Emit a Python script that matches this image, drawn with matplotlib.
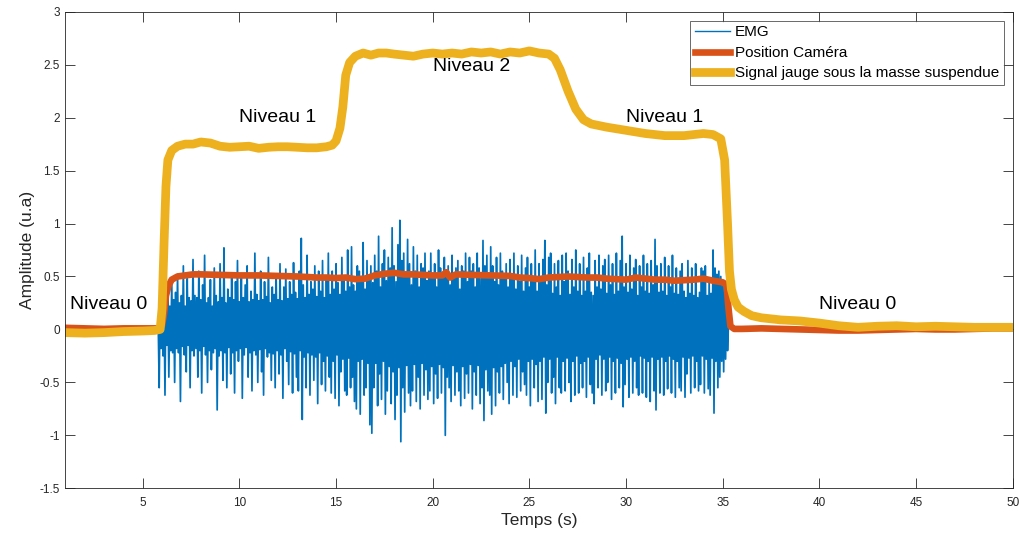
import numpy as np
import matplotlib
matplotlib.use("Agg")
import matplotlib.pyplot as plt

plt.rcParams['font.family'] = ['Liberation Sans', 'DejaVu Sans']

# --- Signal jauge (yellow) ---
jauge_t = [1, 2, 3, 4, 5, 5.6, 5.9, 6.0, 6.1, 6.2, 6.3, 6.5, 6.8, 7.2, 7.6, 8.0, 8.5, 9.0,
           9.5, 10, 10.5, 11, 11.5, 12, 12.5, 13, 13.5, 14, 14.5, 14.8, 15.0, 15.2, 15.35,
           15.5, 15.7, 16.0, 16.4, 16.8, 17.2, 17.6, 18.0, 18.5, 19.0, 19.5, 20, 20.5, 21,
           21.5, 22, 22.5, 23, 23.5, 24, 24.5, 25, 25.5, 26.0, 26.3, 26.6, 27.0, 27.4, 27.8,
           28.2, 29, 30, 31, 32, 33, 33.5, 34, 34.5, 34.9, 35.1, 35.25, 35.35, 35.45, 35.6,
           35.8, 36.1, 36.5, 37, 38, 39, 40, 41, 42, 43, 44, 45, 46, 47, 48, 49, 50]
jauge_v = [-0.03, -0.035, -0.03, -0.02, -0.015, -0.01, 0.0, 0.2, 0.8, 1.35, 1.6, 1.69, 1.73,
           1.75, 1.75, 1.77, 1.76, 1.73, 1.72, 1.725, 1.73, 1.71, 1.72, 1.725, 1.725, 1.72,
           1.715, 1.715, 1.725, 1.74, 1.78, 1.9, 2.1, 2.4, 2.52, 2.58, 2.61, 2.59, 2.61, 2.61,
           2.60, 2.59, 2.58, 2.60, 2.61, 2.60, 2.61, 2.60, 2.62, 2.61, 2.62, 2.60, 2.62, 2.61,
           2.63, 2.61, 2.60, 2.56, 2.45, 2.25, 2.08, 1.98, 1.94, 1.91, 1.88, 1.85, 1.83, 1.83,
           1.84, 1.85, 1.84, 1.80, 1.6, 1.0, 0.55, 0.38, 0.28, 0.21, 0.17, 0.13, 0.11, 0.09,
           0.08, 0.06, 0.035, 0.02, 0.03, 0.035, 0.025, 0.03, 0.025, 0.02, 0.02, 0.02]

# --- Position camera (red) ---
cam_t = [1, 2, 3, 4, 5, 5.8, 6.0, 6.1, 6.2, 6.35, 6.5, 6.8, 7.2, 7.6, 8, 9, 10, 11, 12, 13,
         14, 14.5, 15, 15.5, 16, 16.5, 17, 17.5, 18, 18.5, 19, 19.5, 20, 20.5, 20.7, 20.9,
         21.2, 22, 23, 24, 24.5, 25, 25.5, 26, 27, 28, 28.5, 29, 29.5, 30, 30.5, 31, 31.5,
         32, 32.5, 33, 33.5, 34, 34.5, 35, 35.2, 35.3, 35.4, 35.6, 36, 37, 38, 39, 40, 41,
         42, 43, 44, 45, 46, 47, 48, 49, 50]
cam_v = [0.015, 0.01, 0.005, 0.01, 0.01, 0.01, 0.04, 0.15, 0.32, 0.42, 0.47, 0.50, 0.51,
         0.52, 0.52, 0.515, 0.51, 0.51, 0.505, 0.50, 0.49, 0.49, 0.485, 0.49, 0.475, 0.48,
         0.51, 0.525, 0.535, 0.52, 0.52, 0.515, 0.51, 0.51, 0.54, 0.49, 0.52, 0.515, 0.51,
         0.505, 0.49, 0.485, 0.475, 0.49, 0.50, 0.49, 0.49, 0.48, 0.475, 0.47, 0.49, 0.48,
         0.47, 0.47, 0.46, 0.465, 0.47, 0.48, 0.46, 0.445, 0.42, 0.2, 0.03, 0.005, 0.005,
         0.01, 0.005, 0.0, -0.005, -0.01, -0.01, -0.005, 0.0, 0.005, 0.0, 0.0, 0.005, 0.01,
         0.01]

# --- EMG samples (one row per second, starting at 5.8 s) ---
emg_rows = [
    [0.05, -0.55, 0.30, -0.18, 0.55, -0.25, 0.28, -0.62, 0.40, -0.15, 0.30, -0.45, 0.22, -0.20, 0.45, -0.22, 0.28, -0.50, 0.35, -0.18],
    [0.52, -0.22, 0.25, -0.68, 0.32, -0.16, 0.60, -0.24, 0.22, -0.40, 0.48, -0.15, 0.30, -0.55, 0.27, -0.20, 0.66, -0.25, 0.32, -0.18],
    [0.30, -0.45, 0.55, -0.20, 0.28, -0.60, 0.42, -0.16, 0.70, -0.24, 0.25, -0.50, 0.30, -0.20, 0.47, -0.38, 0.22, -0.22, 0.58, -0.18],
    [0.32, -0.76, 0.26, -0.25, 0.62, -0.20, 0.30, -0.48, 0.77, -0.22, 0.25, -0.55, 0.38, -0.17, 0.30, -0.42, 0.53, -0.22, 0.28, -0.60],
    [0.45, -0.20, 0.65, -0.30, 0.26, -0.18, 0.50, -0.65, 0.30, -0.24, 0.42, -0.17, 0.60, -0.45, 0.26, -0.22, 0.36, -0.58, 0.28, -0.20],
    [0.72, -0.24, 0.33, -0.50, 0.27, -0.19, 0.55, -0.40, 0.28, -0.62, 0.45, -0.18, 0.31, -0.26, 0.68, -0.22, 0.25, -0.48, 0.40, -0.23],
    [0.33, -0.55, 0.52, -0.20, 0.28, -0.42, 0.62, -0.24, 0.27, -0.65, 0.40, -0.18, 0.57, -0.30, 0.29, -0.52, 0.45, -0.21, 0.33, -0.60],
    [0.63, -0.23, 0.35, -0.45, 0.29, -0.58, 0.55, -0.20, 0.86, -0.85, 0.42, -0.26, 0.30, -0.55, 0.70, -0.22, 0.33, -0.62, 0.45, -0.24],
    [0.38, -0.48, 0.60, -0.26, 0.31, -0.70, 0.55, -0.22, 0.36, -0.52, 0.65, -0.30, 0.30, -0.58, 0.48, -0.25, 0.72, -0.45, 0.33, -0.60],
    [0.55, -0.30, 0.38, -0.65, 0.62, -0.24, 0.44, -0.72, 0.33, -0.40, 0.68, -0.28, 0.50, -0.58, 0.36, -0.62, 0.75, -0.27, 0.40, -0.55],
    [0.78, -0.45, 0.42, -0.68, 0.36, -0.75, 0.60, -0.30, 0.55, -0.80, 0.46, -0.28, 0.82, -0.62, 0.38, -0.55, 0.65, -0.32, 0.50, -0.90],
    [0.60, -0.98, 0.44, -0.55, 0.70, -0.32, 0.55, -0.72, 0.88, -0.42, 0.40, -0.66, 0.62, -0.30, 0.75, -0.80, 0.46, -0.58, 0.68, -0.35],
    [0.58, -0.70, 0.96, -0.40, 0.60, -0.85, 0.45, -0.62, 0.80, -0.36, 1.03, -1.06, 0.65, -0.55, 0.72, -0.78, 0.50, -0.34, 0.85, -0.60],
    [0.62, -0.72, 0.42, -0.58, 0.78, -0.33, 0.55, -0.68, 0.70, -0.45, 0.40, -0.75, 0.62, -0.32, 0.58, -0.62, 0.72, -0.38, 0.46, -0.66],
    [0.55, -0.58, 0.72, -0.35, 0.48, -0.70, 0.62, -0.42, 0.40, -0.65, 0.75, -0.33, 0.58, -0.60, 0.50, -0.36, 0.68, -1.00, 0.55, -0.45],
    [0.60, -0.55, 0.42, -0.68, 0.70, -0.34, 0.52, -0.62, 0.58, -0.40, 0.65, -0.58, 0.38, -0.72, 0.60, -0.35, 0.55, -0.65, 0.72, -0.42],
    [0.45, -0.60, 0.68, -0.33, 0.55, -0.75, 0.62, -0.40, 0.40, -0.62, 0.72, -0.34, 0.58, -0.70, 0.48, -0.55, 0.84, -0.86, 0.60, -0.38],
    [0.70, -0.58, 0.50, -0.62, 0.78, -0.80, 0.60, -0.36, 0.45, -0.72, 0.68, -0.40, 0.42, -0.60, 0.72, -0.35, 0.55, -0.66, 0.50, -0.32],
    [0.62, -0.50, 0.40, -0.70, 0.66, -0.30, 0.48, -0.62, 0.72, -0.35, 0.38, -0.64, 0.60, -0.28, 0.45, -0.58, 0.70, -0.40, 0.36, -0.52],
    [0.58, -0.62, 0.68, -0.30, 0.40, -0.72, 0.62, -0.28, 0.45, -0.55, 0.75, -0.33, 0.36, -0.68, 0.62, -0.30, 0.48, -0.66, 0.66, -0.26],
    [0.84, -0.79, 0.42, -0.50, 0.68, -0.28, 0.72, -0.60, 0.34, -0.45, 0.62, -0.70, 0.40, -0.26, 0.65, -0.55, 0.32, -0.60, 0.70, -0.30],
    [0.45, -0.58, 0.72, -0.27, 0.55, -0.50, 0.33, -0.68, 0.66, -0.30, 0.40, -0.62, 0.75, -0.25, 0.36, -0.60, 0.62, -0.32, 0.32, -0.55],
    [0.68, -0.30, 0.36, -0.64, 0.58, -0.26, 0.72, -0.52, 0.35, -0.60, 0.32, -0.70, 0.65, -0.28, 0.40, -0.55, 0.70, -0.24, 0.38, -0.62],
    [0.60, -0.28, 0.66, -0.58, 0.34, -0.50, 0.70, -0.26, 0.42, -0.66, 0.62, -0.30, 0.33, -0.60, 0.72, -0.27, 0.36, -0.55, 0.65, -0.32],
    [0.88, -0.73, 0.40, -0.52, 0.62, -0.28, 0.35, -0.64, 0.70, -0.26, 0.38, -0.60, 0.58, -0.30, 0.66, -0.55, 0.32, -0.62, 0.60, -0.25],
    [0.40, -0.60, 0.70, -0.27, 0.36, -0.64, 0.62, -0.30, 0.34, -0.68, 0.65, -0.26, 0.42, -0.58, 0.85, -0.76, 0.60, -0.28, 0.35, -0.60],
    [0.62, -0.26, 0.36, -0.62, 0.68, -0.30, 0.32, -0.56, 0.60, -0.25, 0.40, -0.60, 0.70, -0.28, 0.34, -0.64, 0.58, -0.30, 0.33, -0.55],
    [0.55, -0.58, 0.62, -0.26, 0.36, -0.64, 0.30, -0.42, 0.65, -0.27, 0.34, -0.60, 0.58, -0.25, 0.32, -0.55, 0.62, -0.30, 0.30, -0.58],
    [0.35, -0.52, 0.58, -0.25, 0.55, -0.60, 0.60, -0.28, 0.32, -0.56, 0.48, -0.62, 0.34, -0.27, 0.75, -0.79, 0.58, -0.30, 0.52, -0.55],
    [0.55, -0.45, 0.50, -0.30, 0.45, -0.40, 0.42, -0.28, 0.30, -0.20, 0.05],
]
emg_v = np.concatenate([np.array(r) for r in emg_rows])
emg_t = np.linspace(5.8, 35.3, len(emg_v))

niveau_labels = ["Niveau 0", "Niveau 1", "Niveau 2", "Niveau 1", "Niveau 0"]
niveau_x = [1.25, 10.0, 20.0, 30.0, 40.0]
niveau_y = [0.24, 2.0, 2.48, 2.0, 0.24]

fig = plt.figure(figsize=(10.19, 5.35), dpi=100)
ax = fig.add_axes([0.0642, 0.0873, 0.9296, 0.8908])

ax.plot(emg_t, emg_v, color="#0072BD", lw=1.25, label="EMG")
ax.plot(cam_t, cam_v, color="#D95319", lw=4.8, label="Position Caméra")
ax.plot(jauge_t, jauge_v, color="#EDB120", lw=6.3, label="Signal jauge sous la masse suspendue")

for lab, xx, yy in zip(niveau_labels, niveau_x, niveau_y):
    ax.text(xx, yy, lab, fontsize=14, ha="left", va="center", color="black")

ax.set_xlim(1, 50)
ax.set_ylim(-1.5, 3)
ax.set_xticks(np.arange(5, 51, 5))
ax.set_yticks(np.arange(-1.5, 3.01, 0.5))
ax.set_yticklabels(["-1.5", "-1", "-0.5", "0", "0.5", "1", "1.5", "2", "2.5", "3"])
ax.tick_params(direction="in", top=True, right=True, length=7, width=0.6,
               colors="#262626", labelsize=8.5)
ax.tick_params(axis="x", pad=6)
ax.tick_params(axis="y", pad=4)
for s in ax.spines.values():
    s.set_linewidth(0.6)
    s.set_color("#262626")

ax.set_xlabel("Temps (s)", fontsize=12.5, color="#262626", labelpad=3)
ax.set_ylabel("Amplitude (u.a)", fontsize=12.5, color="#262626", labelpad=3)

leg = ax.legend(loc="upper right", fontsize=11, frameon=True, fancybox=False,
                edgecolor="#262626", borderaxespad=0.6, handlelength=2.3,
                handletextpad=0.3, labelspacing=0.42, borderpad=0.3)
leg.get_frame().set_linewidth(0.6)
leg.get_lines()[0].set_linewidth(1.0)

fig.savefig("out.png", dpi=100)
